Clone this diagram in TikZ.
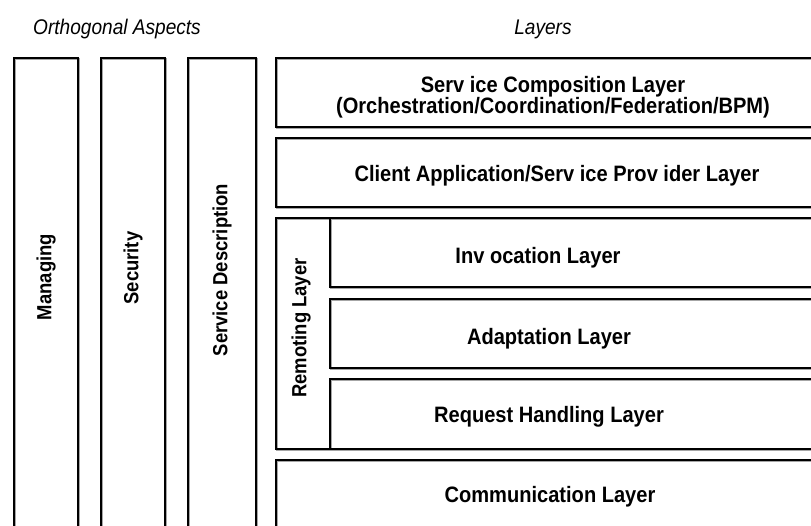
\documentclass[tikz,border=0pt]{standalone}
\usepackage{fontspec}
\setmainfont{Liberation Sans}
\newfontfamily\narrowsans{Liberation Sans}[FakeStretch=0.9]
\begin{document}
\begin{tikzpicture}[x=1pt,y=-1pt,
  box/.style={draw, line width=2.6pt, inner sep=0pt, outer sep=0pt,
    anchor=north west,
    preaction={draw=black!35, line width=2.6pt,
      transform canvas={shift={(0.9pt,-0.9pt)}}}},
  lbl/.style={font=\narrowsans\bfseries\fontsize{22.3}{21}\selectfont, align=center, inner sep=0pt},
  vlbl/.style={font=\narrowsans\bfseries\fontsize{20.5}{21}\selectfont, inner sep=0pt, rotate=90},
  head/.style={font=\narrowsans\itshape\fontsize{21.2}{22}\selectfont, inner sep=0pt}]
\useasboundingbox (0,0) rectangle (811,525);
\clip (0,0) rectangle (811,525);

% column headings
\node[head] (hAspects) at (117,29) {Orthogonal Aspects};
\node[head] (hLayers) at (543,29) {Layers};

% orthogonal aspects (vertical columns)
\node[box, minimum width=64pt, minimum height=520pt] (managing) at (14,58) {};
\node[box, minimum width=64pt, minimum height=520pt] (security) at (101,58) {};
\node[box, minimum width=68pt, minimum height=520pt] (servdesc) at (188,58) {};
\node[vlbl] (tManaging) at (46,277) {Managing};
\node[vlbl] (tSecurity) at (133,268) {Security};
\node[vlbl] (tServDesc) at (222,270) {Service Description};

% layer stack
\node[box, minimum width=560pt, minimum height=69pt] (composition) at (276,58) {};
\node[box, minimum width=560pt, minimum height=69pt] (client) at (276,138) {};
\node[box, minimum width=560pt, minimum height=231pt] (remoting) at (276,218) {};
\node[box, minimum width=506pt, minimum height=69pt] (invocation) at (330,218) {};
\node[box, minimum width=506pt, minimum height=69pt] (adaptation) at (330,299) {};
\node[box, minimum width=506pt, minimum height=70pt] (request) at (330,379) {};
\node[box, minimum width=560pt, minimum height=140pt] (communication) at (276,460) {};

\node[lbl] (tComposition) at (553,97.5) {Serv ice Composition Layer\\(Orchestration/Coordination/Federation/BPM)};
\node[lbl] (tClient) at (557,176) {Client Application/Serv ice Prov ider Layer};
\node[vlbl] (tRemoting) at (301,328) {Remoting Layer};
\node[lbl] (tInvocation) at (538,258) {Inv ocation Layer};
\node[lbl] (tAdaptation) at (549,338.5) {Adaptation Layer};
\node[lbl] (tRequest) at (549,417) {Request Handling Layer};
\node[lbl] (tCommunication) at (550,497) {Communication Layer};
\end{tikzpicture}
\end{document}
